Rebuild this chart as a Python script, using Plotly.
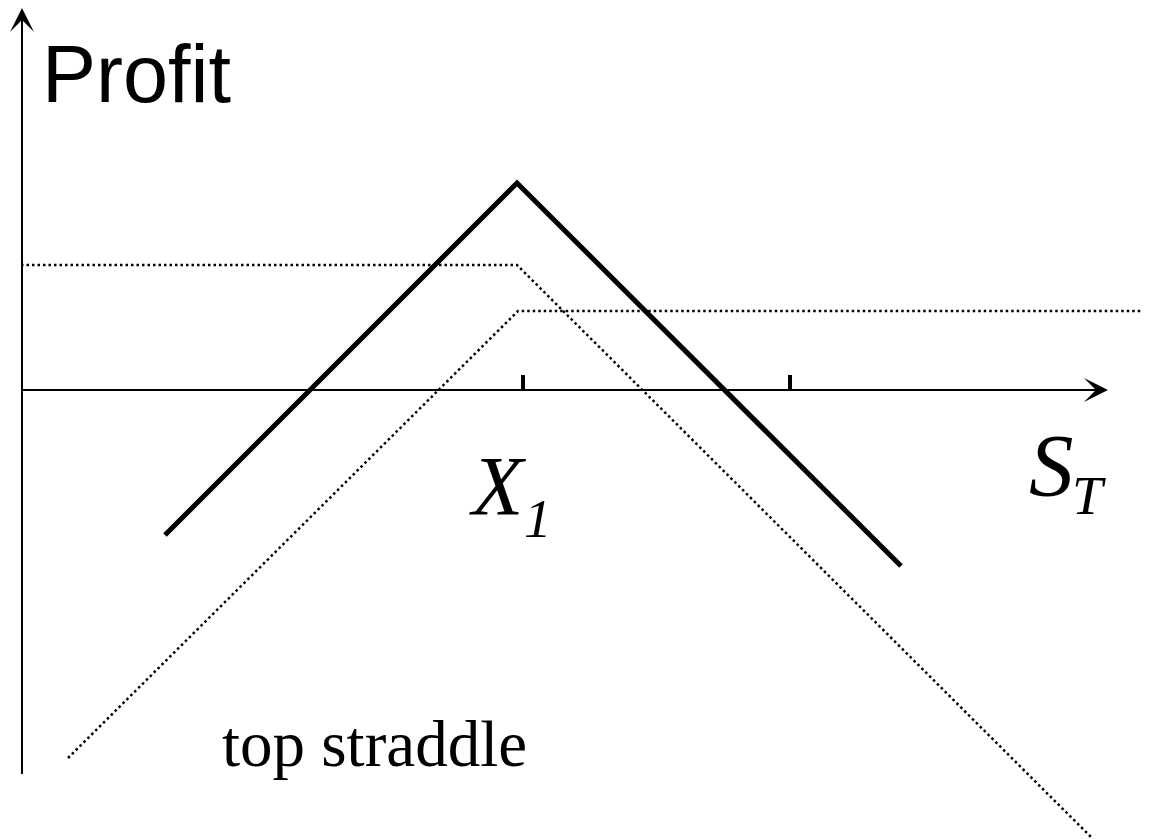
import plotly.graph_objects as go

# Payoff data (S_T units, profit units)
solid_x = [14.4, 49.6, 88.0]
solid_y = [-14.5, 20.7, -17.6]
dot1_x = [0.0, 49.6, 107.1]
dot1_y = [12.5, 12.5, -44.8]
dot2_x = [4.7, 49.7, 112.8]
dot2_y = [-36.8, 7.9, 7.9]
tick_x = [50.2, 76.9]
tick_h = 1.5
x_axis_end = 108.7
y_axis_bottom = -38.4
y_axis_top = 38.2

fig = go.Figure()

# axes
fig.add_trace(go.Scatter(x=[0, x_axis_end - 1], y=[0, 0], mode="lines",
                         line=dict(color="black", width=2), hoverinfo="skip"))
fig.add_trace(go.Scatter(x=[0.1, 0.1], y=[y_axis_bottom, y_axis_top - 1], mode="lines",
                         line=dict(color="black", width=2), hoverinfo="skip"))
for tx in tick_x:
    fig.add_trace(go.Scatter(x=[tx, tx], y=[0, tick_h], mode="lines",
                             line=dict(color="black", width=4), hoverinfo="skip"))

# payoff lines
fig.add_trace(go.Scatter(x=dot1_x, y=dot1_y, mode="lines",
                         line=dict(color="black", width=2.5, dash="2.5px,3px"), hoverinfo="skip"))
fig.add_trace(go.Scatter(x=dot2_x, y=dot2_y, mode="lines",
                         line=dict(color="black", width=2.5, dash="2.5px,3px"), hoverinfo="skip"))
fig.add_trace(go.Scatter(x=solid_x, y=solid_y, mode="lines",
                         line=dict(color="black", width=5), hoverinfo="skip"))

# arrowheads
fig.add_annotation(x=x_axis_end, y=0, ax=x_axis_end - 5, ay=0, axref="x", ayref="y",
                   xref="x", yref="y", text="", showarrow=True, arrowhead=3,
                   arrowsize=2.0, arrowwidth=2, arrowcolor="black")
fig.add_annotation(x=0.1, y=y_axis_top, ax=0.1, ay=y_axis_top - 5, axref="x", ayref="y",
                   xref="x", yref="y", text="", showarrow=True, arrowhead=3,
                   arrowsize=2.0, arrowwidth=2, arrowcolor="black")

sans = "Liberation Sans, Arial, sans-serif"
serif = "Liberation Serif, Times New Roman, serif"

def label(text, x, y, size, family):
    fig.add_annotation(x=x, y=y, xref="x", yref="y", text=text, showarrow=False,
                       xanchor="left", yanchor="middle",
                       font=dict(size=size, family=family, color="black"))

label("Profit", 1.9, 31.6, 81, sans)
label("<i>X</i>", 44.6, -9.6, 84, serif)
label("<i>1</i>", 50.1, -12.8, 55, serif)
label("<i>S</i>", 100.6, -7.5, 89, serif)
label("<i>T</i>", 104.9, -10.5, 55, serif)
label("top straddle", 19.9, -35.4, 65, serif)

# the page body adds an 8px offset; ranges are shifted to compensate
fig.update_layout(
    width=1149, height=839,
    margin=dict(l=0, r=0, t=0, b=0),
    paper_bgcolor="white", plot_bgcolor="white",
    showlegend=False,
    xaxis=dict(range=[-1.3, 113.6], visible=False, fixedrange=True),
    yaxis=dict(range=[-45.7, 38.2], visible=False, fixedrange=True),
)

fig.write_html("out.html")
